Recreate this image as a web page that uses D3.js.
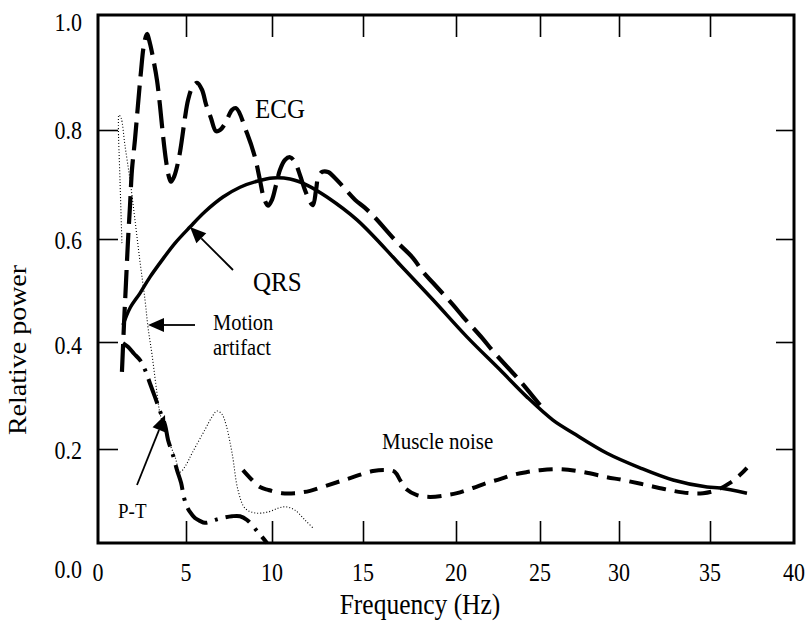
<!DOCTYPE html>
<html>
<head>
<meta charset="utf-8">
<script src="https://cdn.jsdelivr.net/npm/d3@7"></script>
<style>
  html, body { margin: 0; padding: 0; background: #fff; }
  svg { display: block; }
</style>
</head>
<body>
<svg id="chart" width="809" height="623"></svg>
<script>
// ---- Data ----
const xTicks = [0, 5, 10, 15, 20, 25, 30, 35, 40];
const yTicks = [0.0, 0.2, 0.4, 0.6, 0.8, 1.0];
const xTickLabels = ["0", "5", "10", "15", "20", "25", "30", "35", "40"];
const yTickLabels = ["0.0", "0.2", "0.4", "0.6", "0.8", "1.0"];

// ECG spectrum (long dashes)
const ecgFreq = [1.36,1.48,1.59,1.70,1.82,1.93,2.10,2.27,2.44,2.61,2.78,2.95,3.13,3.35,3.52,3.69,3.86,4.03,4.15,4.32,4.55,4.72,4.94,5.12,5.35,5.64,5.93,6.16,6.45,6.74,6.98,7.27,7.68,7.91,8.55,9.01,9.30,9.53,9.77,10.0,10.22,10.44,10.71,10.99,11.26,11.54,11.81,12.09,12.25,12.42,12.53,12.75,13.08,13.46,13.90,14.56,15.11,15.65,16.72,17.69,18.23,18.76,19.84,20.42,21.55,22.14,23.33,23.93,25.0];
const ecgPower = [0.344,0.437,0.515,0.594,0.662,0.727,0.782,0.843,0.901,0.948,0.967,0.951,0.925,0.887,0.843,0.791,0.745,0.714,0.705,0.714,0.741,0.772,0.821,0.852,0.873,0.882,0.870,0.845,0.821,0.798,0.800,0.811,0.835,0.838,0.794,0.750,0.708,0.675,0.661,0.672,0.699,0.727,0.745,0.750,0.741,0.717,0.690,0.668,0.662,0.690,0.712,0.723,0.723,0.712,0.696,0.672,0.657,0.639,0.598,0.563,0.536,0.515,0.472,0.449,0.408,0.385,0.344,0.323,0.282];

// QRS complex (solid)
const qrsFreq = [1.42,1.82,2.39,2.95,3.64,4.38,5.23,6.10,7.15,8.14,9.13,10.05,10.99,11.92,13.02,14.67,16.61,16.99,18.76,20.65,22.62,24.23,25.82,27.09,29.24,31.15,32.97,34.84,35.60,37.20];
const qrsPower = [0.433,0.466,0.495,0.526,0.559,0.592,0.622,0.650,0.677,0.695,0.706,0.712,0.710,0.699,0.677,0.635,0.565,0.550,0.482,0.410,0.348,0.297,0.254,0.230,0.191,0.160,0.134,0.119,0.117,0.106];

// Muscle noise (short dashes)
const muscleFreq = [8.31,8.84,9.30,9.77,10.55,11.26,12.09,12.91,14.12,15.54,16.29,16.72,16.99,17.26,17.90,18.60,19.52,20.06,21.01,21.85,22.62,23.39,24.23,25.0,26.27,27.72,29.24,30.22,31.54,32.97,33.90,34.62,35.42,36.19,36.79,37.20];
const musclePower = [0.155,0.134,0.119,0.113,0.106,0.106,0.111,0.121,0.136,0.153,0.155,0.151,0.134,0.117,0.102,0.098,0.102,0.106,0.117,0.128,0.136,0.145,0.151,0.155,0.157,0.151,0.140,0.134,0.123,0.111,0.106,0.106,0.113,0.128,0.145,0.160];

// Motion artifact (dotted)
const motionFreq = [1.36,1.25,1.16,1.19,1.31,1.53,1.82,2.10,2.39,2.67,2.84,3.07,3.35,3.52,3.92,4.38,4.66,5.0,5.35,6.10,6.51,6.80,7.09,7.33,7.68,8.02,8.43,9.01,9.77,10.33,10.77,11.26,11.81,12.25];
const motionPower = [0.592,0.708,0.809,0.826,0.821,0.772,0.708,0.635,0.555,0.482,0.429,0.376,0.305,0.267,0.222,0.183,0.151,0.166,0.191,0.236,0.260,0.271,0.265,0.245,0.191,0.113,0.074,0.064,0.066,0.074,0.077,0.070,0.049,0.032];

// P-T waves (dash-dot)
const ptFreq = [1.42,1.70,2.05,2.39,2.67,2.95,3.24,3.52,3.81,3.98,4.26,4.49,4.72,4.89,5.06,5.23,5.52,5.81,6.10,6.40,6.69,7.09,7.68,8.14,8.55,9.07,9.42,9.71];
const ptPower = [0.398,0.391,0.378,0.366,0.348,0.323,0.297,0.271,0.245,0.217,0.187,0.155,0.128,0.096,0.077,0.066,0.053,0.047,0.043,0.045,0.049,0.053,0.057,0.057,0.049,0.028,0.013,0.0];

// ---- Layout ----
const FONT = "'Liberation Serif', 'Times New Roman', Times, serif";
const STRETCH = 1.12; // the scanned figure's lettering is taller than it is wide
const svg = d3.select("#chart").attr("font-family", FONT);
const L = 98, R = 794, T = 15, B = 543;

// The scanned figure has slightly uneven tick spacing; polylinear scales follow it.
const x = d3.scaleLinear().domain(xTicks).range([98,186,272,363,456,540,619,710,794]);
const y = d3.scaleLinear().domain(yTicks).range([543,449,342,239,130,15]);
const yLabelPos = d3.scaleLinear().domain(yTicks).range([569,450,345,240,130,22]);

const line = d3.line().x(d => x(d[0])).y(d => y(d[1])).curve(d3.curveCatmullRom.alpha(0.5));
const zip = (a, b) => a.map((v, i) => [v, b[i]]);

// Frame
svg.append("rect").attr("x", L).attr("y", T).attr("width", R - L).attr("height", B - T)
  .attr("fill", "none").attr("stroke", "#000").attr("stroke-width", 3);

// Axes with inward ticks (D3 axis generators)
const innerX = xTicks.slice(1, -1);
const innerY = yTicks.slice(1, -1);
const tickStyle = g => { g.select(".domain").remove(); g.selectAll("line").attr("stroke", "#000").attr("stroke-width", 1.6); g.selectAll("text").remove(); };
svg.append("g").attr("transform", `translate(0,${B})`).call(d3.axisTop(x).tickValues(innerX).tickSize(22)).call(tickStyle);
svg.append("g").attr("transform", `translate(0,${T})`).call(d3.axisBottom(x).tickValues(innerX).tickSize(22)).call(tickStyle);
svg.append("g").attr("transform", `translate(${L},0)`).call(d3.axisRight(y).tickValues(innerY).tickSize(20)).call(tickStyle);
svg.append("g").attr("transform", `translate(${R},0)`).call(d3.axisLeft(y).tickValues(innerY).tickSize(18)).call(tickStyle);

// Tick labels
svg.append("g").selectAll("text").data(xTicks).join("text")
  .attr("font-family", FONT)
  .attr("transform", d => `translate(${x(d)},581) scale(1,${STRETCH})`).attr("text-anchor", "middle")
  .attr("font-size", 22).text((d, i) => xTickLabels[i]);
svg.append("g").selectAll("text").data(yTicks).join("text")
  .attr("font-family", FONT)
  .attr("transform", d => `translate(82,${yLabelPos(d)}) scale(1,${STRETCH})`).attr("dy", "0.35em").attr("text-anchor", "end")
  .attr("font-size", 22).text((d, i) => yTickLabels[i]);

// Axis titles
svg.append("text").attr("font-family", FONT).attr("transform", `translate(420,614) scale(1,${STRETCH})`)
  .attr("text-anchor", "middle").attr("font-size", 25.5).text("Frequency (Hz)");
svg.append("text").attr("font-family", FONT).attr("transform", `translate(26,350) scale(${1 / STRETCH},1) rotate(-90)`)
  .attr("text-anchor", "middle").attr("font-size", 28).text("Relative power");

// Curves
const curves = [
  { f: motionFreq, p: motionPower, w: 1.1, dash: "1,2" },
  { f: ptFreq, p: ptPower, w: 4, dash: "26,8,3,8" },
  { f: muscleFreq, p: musclePower, w: 4, dash: "14,9" },
  { f: qrsFreq, p: qrsPower, w: 3.5, dash: null },
  { f: ecgFreq, p: ecgPower, w: 4.2, dash: "28,9" }
];
svg.append("g").selectAll("path").data(curves).join("path")
  .attr("d", d => line(zip(d.f, d.p)))
  .attr("fill", "none").attr("stroke", "#000")
  .attr("stroke-width", d => d.w)
  .attr("stroke-dasharray", d => d.dash);

// Arrows
function arrow(x1, y1, x2, y2) {
  const a = Math.atan2(y2 - y1, x2 - x1), len = 16, hw = 7;
  const bx = x2 - len * Math.cos(a), by = y2 - len * Math.sin(a);
  svg.append("line").attr("x1", x1).attr("y1", y1).attr("x2", bx).attr("y2", by)
    .attr("stroke", "#000").attr("stroke-width", 1.8);
  svg.append("path").attr("d", `M${x2},${y2}L${bx + hw * Math.sin(a)},${by - hw * Math.cos(a)}L${bx - hw * Math.sin(a)},${by + hw * Math.cos(a)}Z`).attr("fill", "#000");
}
arrow(233, 270, 190, 227);
arrow(195, 325, 148, 325);
arrow(137, 485, 165, 415);

// Annotations
const note = (tx, ty, size, s) => svg.append("text").attr("font-family", FONT)
  .attr("transform", `translate(${tx},${ty}) scale(1,${STRETCH})`).attr("font-size", size).text(s);
note(255, 118, 25, "ECG");
note(253, 291, 25, "QRS");
note(213, 330, 20.5, "Motion");
note(213, 355, 20.5, "artifact");
note(382, 449, 21, "Muscle noise");
note(118, 518, 19, "P-T");
</script>
</body>
</html>
